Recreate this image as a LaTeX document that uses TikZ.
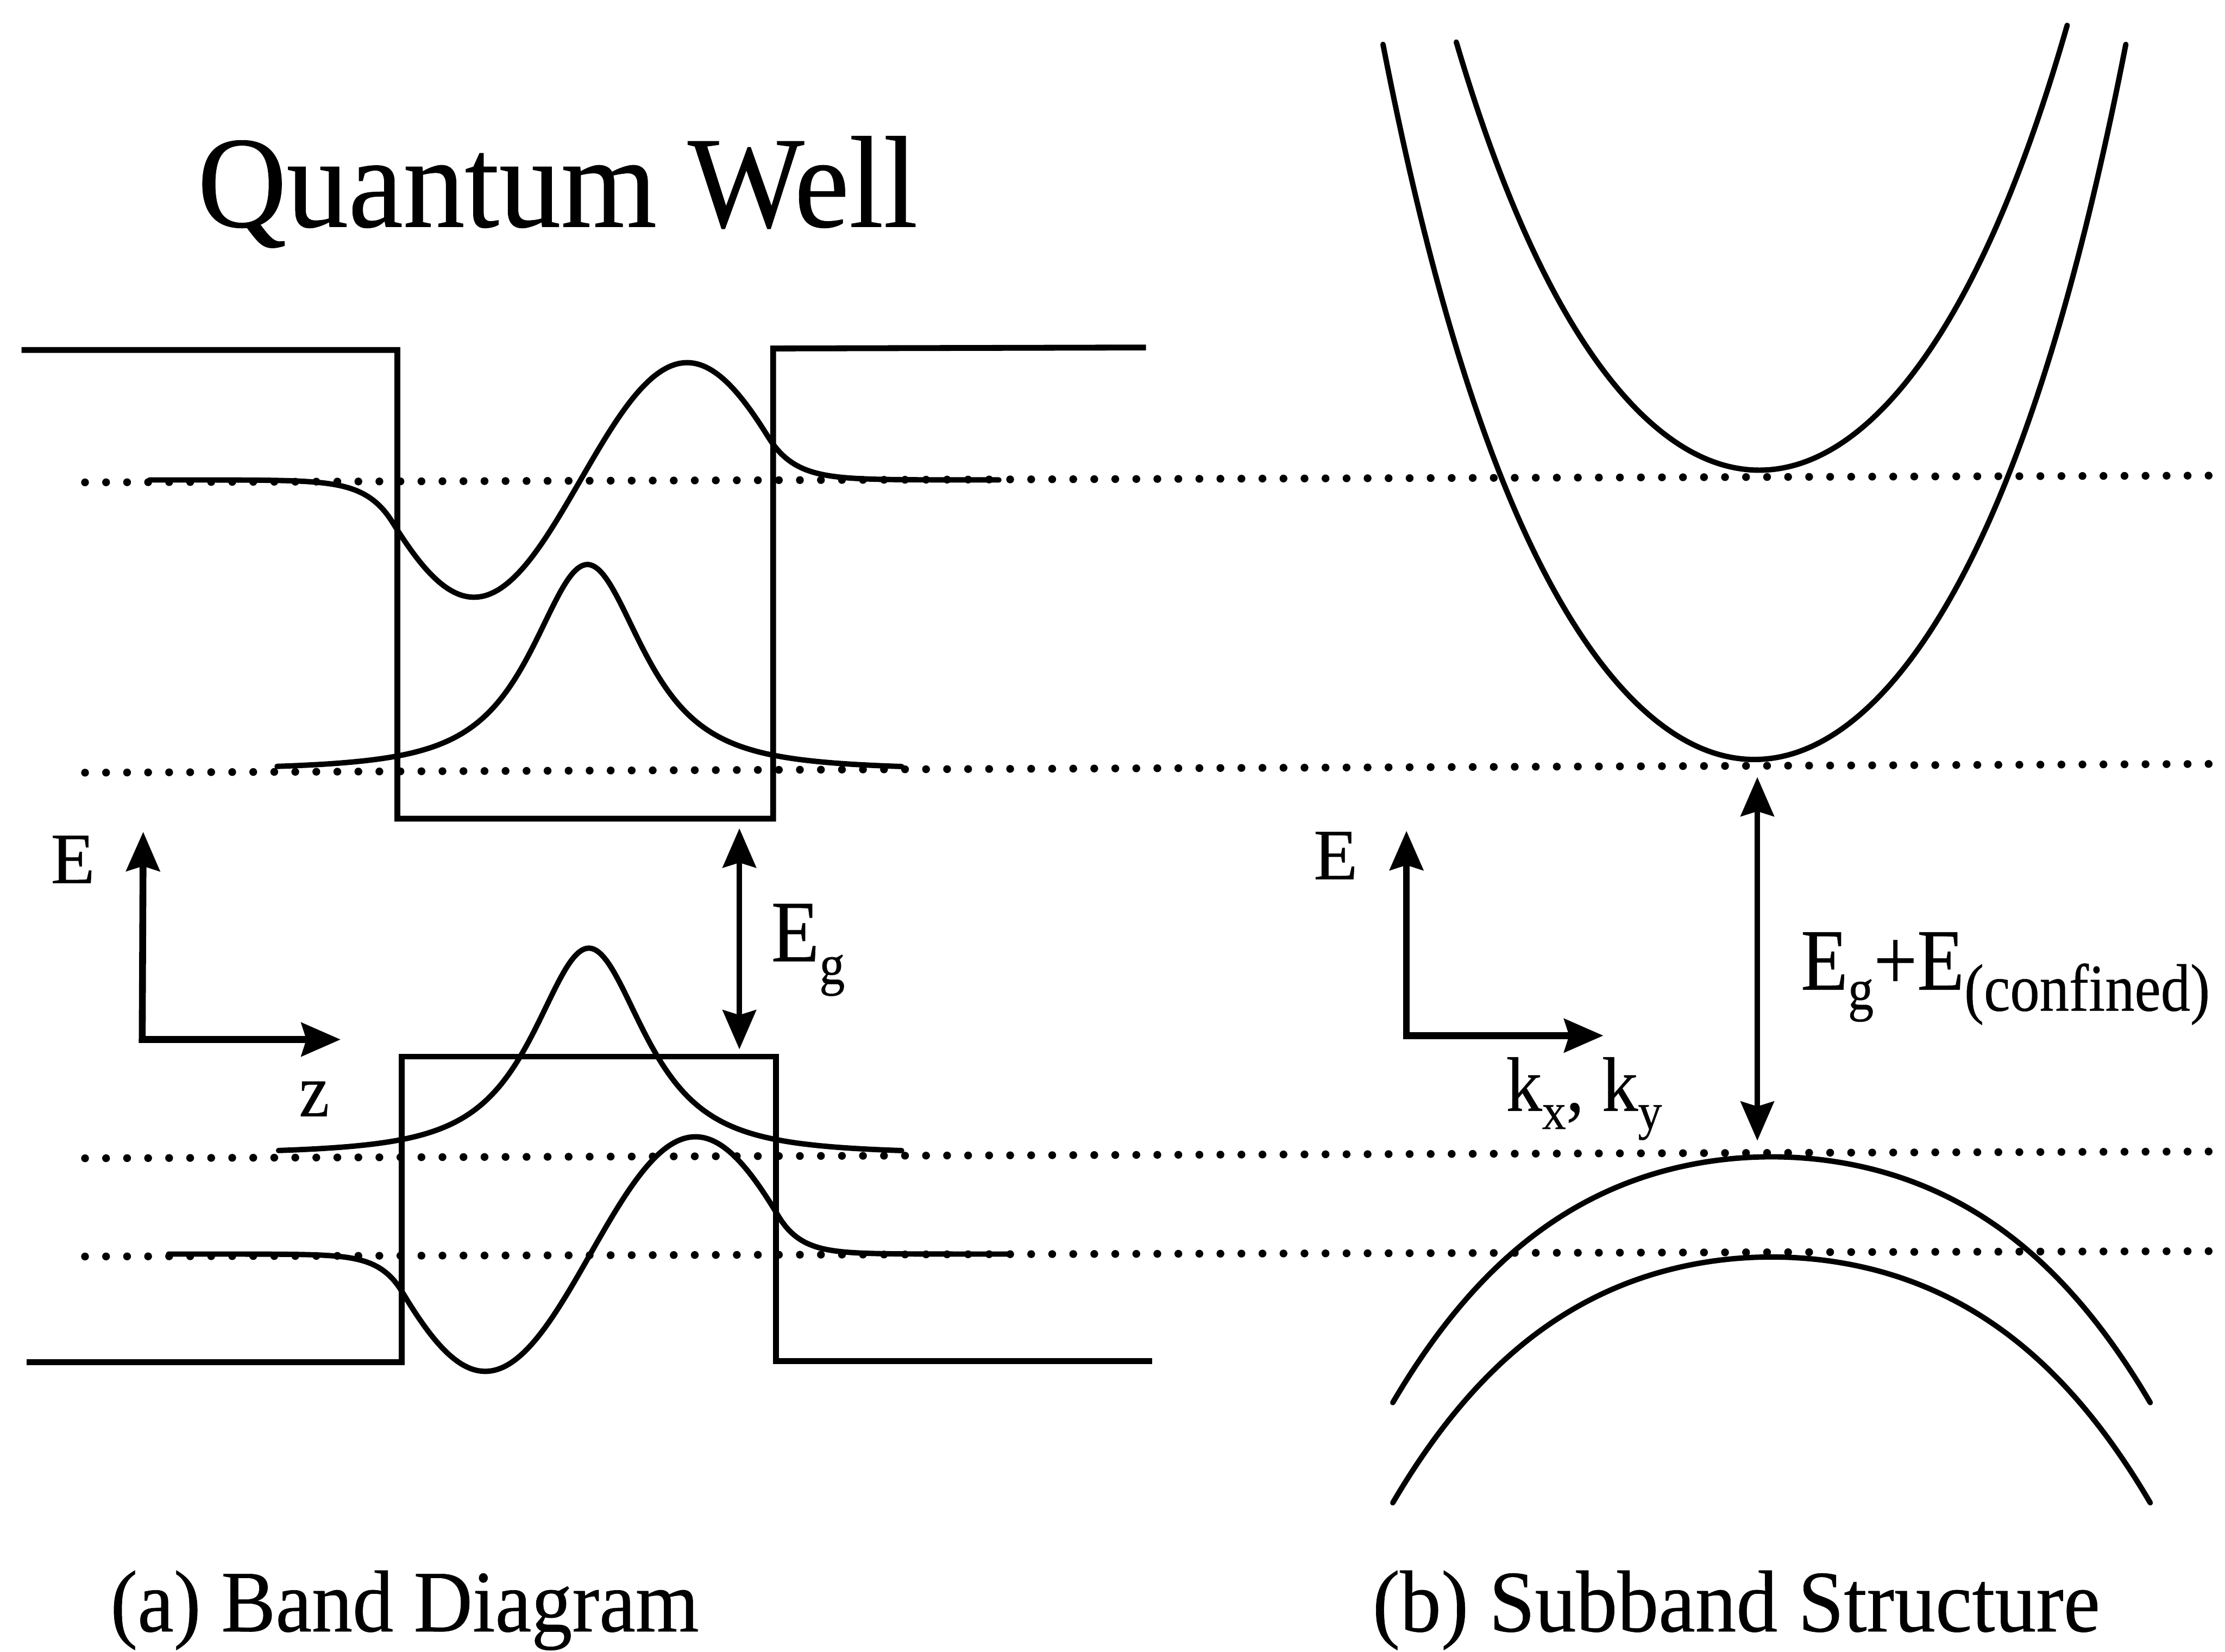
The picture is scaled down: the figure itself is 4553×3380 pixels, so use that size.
\documentclass[tikz,border=0pt]{standalone}
\usepackage{fontspec}
\setmainfont{Liberation Serif}[FakeBold=0.4]
\usepackage{graphicx}
\usetikzlibrary{arrows.meta}

\begin{document}
\begin{tikzpicture}[x=0.01cm, y=-0.01cm,
  >={Stealth[length=0.8cm, width=0.68cm, inset=0.1cm]},
  bandedge/.style={line width=0.12cm, line join=miter, line cap=butt},
  wave/.style={line width=0.11cm, line join=round, line cap=round},
  level/.style={line width=0.16cm, line cap=round, dash pattern=on 0pt off 0.43cm},
  axis/.style={line width=0.14cm, line join=miter, <->},
  gaparrow/.style={line width=0.11cm, <->},
  lbl/.style={inner sep=0pt, outer sep=0pt},
  declare function={
    psiA(\u) = (abs(\u)<385) ? sin(0.4128*\u) : ((\u>0)-(\u<0))*0.3600*exp(-0.01868*(abs(\u)-385));
    psiB(\u) = (abs(\u)<385) ? sin(0.4186*\u) : ((\u>0)-(\u<0))*0.3223*exp(-0.02148*(abs(\u)-385));
    lor(\u) = 1/((1+(\u/175)*(\u/175))^1.5);
    cbd(\t) = 1935*\t*\t + 612.3*(\t*\t)*(\t*\t) + 733*(\t*\t)*(\t*\t)*(\t*\t);
    vbd(\t) = 575.9*\t*\t + 435.5*(\t*\t)*(\t*\t);
  }]

\fill[white] (0,0) rectangle (4553,3380);
\useasboundingbox (0,0) rectangle (4553,3380);

% ---------- dotted subband levels ----------
\draw[level] (174,987) -- (4553,973);
\draw[level] (174,1581) -- (4553,1563);
\draw[level] (174,2370) -- (4553,2356);
\draw[level] (174,2571) -- (4553,2560);

% ---------- (a) band diagram ----------
\draw[bandedge] (44,716) -- (813,716) -- (813,1675) -- (1582,1675) -- (1582,713) -- (2345,711);
\draw[bandedge] (54,2787) -- (822,2787) -- (822,2162) -- (1588,2162) -- (1588,2785) -- (2358,2785);

% conduction-band wavefunctions
\draw[wave] plot[domain=306:2044, samples=300] (\x, {982 - 240*psiA(\x-1188)});
\draw[wave] plot[domain=567:1845, samples=250] (\x, {1576 - 421*lor(\x-1202)});
% valence-band wavefunctions
\draw[wave] plot[domain=570:1845, samples=250] (\x, {2362 - 422*lor(\x-1205)});
\draw[wave] plot[domain=345:2067, samples=300] (\x, {2566 - 240*psiB(\x-1208)});

% axes (a)
\coordinate (Eatip) at (293,1702);
\coordinate (Oa) at (291,2127);
\coordinate (Zatip) at (697,2127);
\draw[axis] (Eatip) -- (Oa) -- (Zatip);
\node[lbl, anchor=base west] (Ea) at (104,1807) {\fontsize{42}{46}\selectfont E};
\node[lbl, anchor=base west] (za) at (612,2284) {\fontsize{44}{48}\selectfont\scalebox{0.9}[1]{z}};

% band gap arrow
\coordinate (Egtop) at (1513,1695);
\coordinate (Egbot) at (1513,2147);
\draw[gaparrow] (Egtop) -- (Egbot);
\node[lbl, anchor=base west] (Eg) at (1578,1967) {\fontsize{51}{56}\selectfont\scalebox{0.9}[1]{E\raisebox{-0.46cm}{\fontsize{33}{36}\selectfont g}}};

% ---------- (b) subband structure ----------
\draw[wave] plot[domain=2830:4350, samples=200] (\x, {1554 - cbd((\x-3590)/1000)});
\draw[wave] plot[domain=2980:4230, samples=200] (\x, {962 - cbd((\x-3600)/1000)});
\draw[wave] plot[domain=2850:4400, samples=200] (\x, {2367 + vbd((\x-3625)/1000)});
\draw[wave] plot[domain=2850:4400, samples=200] (\x, {2572 + vbd((\x-3625)/1000)});

% axes (b)
\coordinate (Ebtip) at (2878,1700);
\coordinate (Ob) at (2878,2119);
\coordinate (Kbtip) at (3281,2119);
\draw[axis] (Ebtip) -- (Ob) -- (Kbtip);
\node[lbl, anchor=base west] (Eb) at (2688,1799) {\fontsize{42}{46}\selectfont E};
\node[lbl, anchor=base west] (kxy) at (3082,2273) {\fontsize{45}{48}\selectfont\scalebox{0.93}[1]{k\raisebox{-0.37cm}{\fontsize{30}{32}\selectfont x}, k\raisebox{-0.37cm}{\fontsize{30}{32}\selectfont y}}};

% confined gap arrow
\coordinate (Ectop) at (3596,1590);
\coordinate (Ecbot) at (3596,2334);
\draw[gaparrow] (Ectop) -- (Ecbot);
\node[lbl, anchor=base west] (Egc) at (3685,2025) {\fontsize{51}{56}\selectfont\scalebox{0.88}[1]{E\raisebox{-0.40cm}{\fontsize{34}{36}\selectfont g}+E\raisebox{-0.43cm}{\fontsize{39}{42}\selectfont (confined)}}};

% ---------- titles ----------
\node[lbl, anchor=base] (title) at (1141,464) {\fontsize{76}{80}\selectfont\scalebox{0.945}[1]{Quantum Well}};
\node[lbl, anchor=base] (capa) at (828,3338) {\fontsize{51}{56}\selectfont\scalebox{0.93}[1]{(a) Band Diagram}};
\node[lbl, anchor=base] (capb) at (3553,3338) {\fontsize{51}{56}\selectfont\scalebox{0.94}[1]{(b) Subband Structure}};

\end{tikzpicture}
\end{document}
